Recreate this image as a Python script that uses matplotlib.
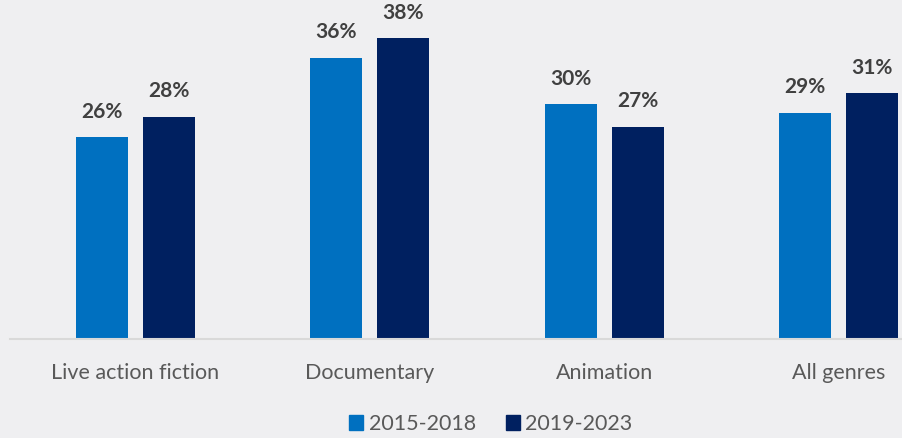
import matplotlib.pyplot as plt
import numpy as np
from matplotlib.patches import Patch

genres = ["Live action fiction", "Documentary", "Animation", "All genres"]
period_a = "2015-2018"
period_b = "2019-2023"
values_a = [25.7, 35.8, 29.9, 28.8]
values_b = [28.3, 38.3, 27.0, 31.3]

light_blue = "#0070C0"
navy = "#002060"
bg = "#EFEFF1"
label_col = "#404040"
tick_col = "#595959"

plt.rcParams['font.family'] = ['Lato', 'DejaVu Sans']

fig = plt.figure(figsize=(9.03, 4.38), dpi=100, facecolor=bg)
# axes spans pixel x 10..903, y 1..339 (from top)
ax = fig.add_axes([10 / 903, (438 - 339) / 438, 893 / 903, 338 / 438])
ax.set_facecolor(bg)

x = np.arange(len(genres))
w = 0.222
off = 0.143
bars_a = ax.bar(x - off, values_a, w, color=light_blue, label=period_a)
bars_b = ax.bar(x + off, values_b, w, color=navy, label=period_b)

for bars in (bars_a, bars_b):
    for b in bars:
        v = b.get_height()
        ax.annotate("%d%%" % round(v), (b.get_x() + b.get_width() / 2, v),
                    xytext=(0, 11), textcoords="offset points",
                    ha="center", va="bottom", fontsize=15,
                    fontweight="bold", color=label_col)

ax.set_xlim((10 - 135.5) / 234.3, (903 - 135.5) / 234.3)
ax.set_ylim(0, 43)
ax.set_xticks(x)
ax.set_xticklabels(genres, fontsize=15.5, color=tick_col)
ax.tick_params(axis="x", length=0, pad=17)
ax.set_yticks([])
for s in ["top", "right", "left"]:
    ax.spines[s].set_visible(False)
ax.spines["bottom"].set_color("#D9D9D9")
ax.spines["bottom"].set_linewidth(1.5)

handles = [Patch(color=light_blue, label=period_a), Patch(color=navy, label=period_b)]
leg = fig.legend(handles=handles, loc="center", bbox_to_anchor=(491 / 903, 1 - 424 / 438),
                 ncol=2, frameon=False, fontsize=15.5, handlelength=0.65, handleheight=0.65,
                 handletextpad=0.25, columnspacing=1.4, borderpad=0)
for t in leg.get_texts():
    t.set_color(tick_col)

fig.savefig("out.png", dpi=100, facecolor=bg)
